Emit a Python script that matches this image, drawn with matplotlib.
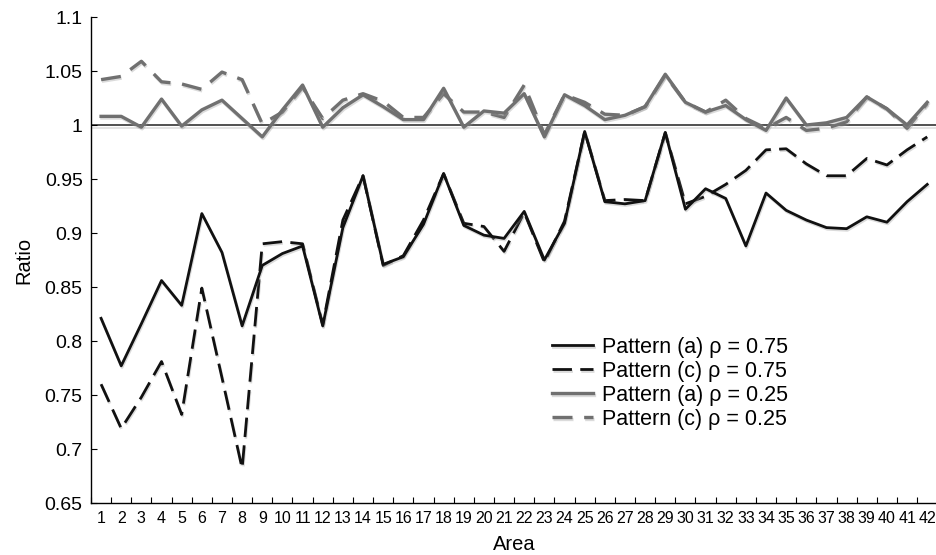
import matplotlib
matplotlib.use("Agg")
import matplotlib.pyplot as plt
import matplotlib.patheffects as pe
from matplotlib import font_manager
import numpy as np

areas = list(range(1, 43))

pattern_a_075 = [0.821, 0.777, 0.816, 0.856, 0.833, 0.918, 0.882, 0.814, 0.870, 0.881,
                 0.888, 0.814, 0.905, 0.953, 0.871, 0.878, 0.908, 0.955, 0.907, 0.898,
                 0.895, 0.920, 0.875, 0.909, 0.994, 0.929, 0.927, 0.930, 0.993, 0.922,
                 0.941, 0.932, 0.888, 0.937, 0.921, 0.912, 0.905, 0.904, 0.915, 0.910,
                 0.929, 0.945]
pattern_c_075 = [0.760, 0.719, 0.748, 0.781, 0.732, 0.849, 0.766, 0.682, 0.890, 0.892,
                 0.890, 0.815, 0.912, 0.953, 0.870, 0.879, 0.912, 0.955, 0.909, 0.906,
                 0.883, 0.919, 0.873, 0.911, 0.994, 0.930, 0.931, 0.930, 0.993, 0.927,
                 0.934, 0.945, 0.958, 0.977, 0.978, 0.964, 0.953, 0.953, 0.969, 0.963,
                 0.977, 0.989]
pattern_a_025 = [1.008, 1.008, 0.998, 1.024, 0.999, 1.014, 1.023, 1.006, 0.989, 1.014,
                 1.037, 0.998, 1.016, 1.028, 1.017, 1.005, 1.005, 1.034, 0.998, 1.013,
                 1.011, 1.029, 0.989, 1.028, 1.018, 1.005, 1.009, 1.017, 1.047, 1.021,
                 1.012, 1.018, 1.005, 0.995, 1.025, 1.000, 1.002, 1.007, 1.026, 1.015,
                 1.000, 1.021]
pattern_c_025 = [1.042, 1.045, 1.059, 1.040, 1.038, 1.033, 1.049, 1.042, 1.001, 1.012,
                 1.035, 1.006, 1.023, 1.029, 1.022, 1.007, 1.007, 1.029, 1.012, 1.012,
                 1.007, 1.037, 0.991, 1.028, 1.021, 1.010, 1.009, 1.017, 1.046, 1.021,
                 1.012, 1.023, 1.006, 0.997, 1.007, 0.995, 0.997, 1.003, 1.026, 1.015,
                 0.997, 1.020]

labels = ["Pattern (a) ρ = 0.75", "Pattern (c) ρ = 0.75",
          "Pattern (a) ρ = 0.25", "Pattern (c) ρ = 0.25"]
yticks = [0.65, 0.7, 0.75, 0.8, 0.85, 0.9, 0.95, 1.0, 1.05, 1.1]

plt.rcParams["font.family"] = ["Liberation Sans", "DejaVu Sans"]
installed = {f.name for f in font_manager.fontManager.ttflist}
if "Liberation Sans Narrow" in installed:
    narrow_family = ["Liberation Sans Narrow", "Liberation Sans", "DejaVu Sans"]
    xtick_size = 13
    xlabel_size = 16
else:
    narrow_family = ["Liberation Sans", "DejaVu Sans"]
    xtick_size = 11.5
    xlabel_size = 14.5

W, H = 937, 555
fig = plt.figure(figsize=(W / 100, H / 100), dpi=100)
ax = fig.add_axes([91 / W, 52 / H, 846.3 / W, 486 / H])

shadow = [pe.SimpleLineShadow(offset=(0.6, -1.2), shadow_color="0.6", alpha=0.35), pe.Normal()]

ax.axhline(1.0, color="#333333", lw=1.2, zorder=1,
           path_effects=[pe.SimpleLineShadow(offset=(0, -2), shadow_color="0.75", alpha=0.5), pe.Normal()])

black = "#111111"
gray = "#707070"
ax.plot(areas, pattern_a_075, color=black, lw=2.0, label=labels[0], path_effects=shadow, zorder=4)
ax.plot(areas, pattern_c_075, color=black, lw=2.0, dashes=(7, 3), label=labels[1], path_effects=shadow, zorder=3)
ax.plot(areas, pattern_a_025, color=gray, lw=2.4, label=labels[2], path_effects=shadow, zorder=3)
ax.plot(areas, pattern_c_025, color=gray, lw=2.4, dashes=(6, 3.5), label=labels[3], path_effects=shadow, zorder=2)

ax.set_xlim(0.5, 42.5)
ax.set_ylim(0.65, 1.1)

ax.spines["top"].set_visible(False)
ax.spines["right"].set_visible(False)
ax.spines["left"].set_linewidth(1.0)
ax.spines["bottom"].set_linewidth(1.0)

ax.set_xticks(areas)
ax.set_xticklabels([str(a) for a in areas], family=narrow_family, fontsize=xtick_size)
ax.set_xticks(np.arange(0.5, 43, 1.0), minor=True)
ax.tick_params(axis="x", which="major", length=0, pad=6)
ax.tick_params(axis="x", which="minor", direction="in", length=4, width=0.8)

ax.set_yticks(yticks)
ax.set_yticklabels([f"{v:g}" for v in yticks], fontsize=14)
ax.tick_params(axis="y", direction="in", length=4, width=0.8, pad=6)

ax.set_xlabel("Area", fontsize=xlabel_size, family=narrow_family, labelpad=6)
ax.set_ylabel("Ratio", fontsize=14.5, labelpad=8)

leg = ax.legend(loc="upper left", bbox_to_anchor=(0.535, 0.36), frameon=False,
                fontsize=15.5, handlelength=1.9, handletextpad=0.4, labelspacing=0.14,
                borderaxespad=0)

fig.savefig("out.png", dpi=100)
